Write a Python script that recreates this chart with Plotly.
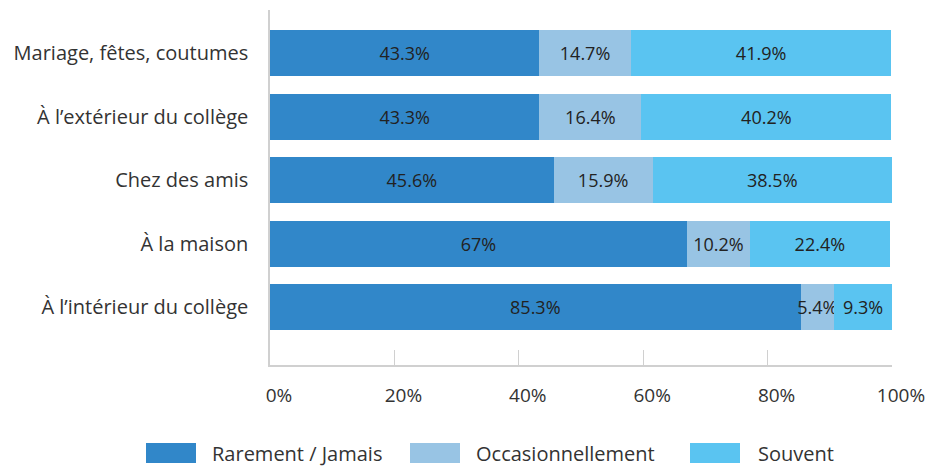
import plotly.graph_objects as go

categories = ["Mariage, fêtes, coutumes", "À l’extérieur du collège", "Chez des amis",
              "À la maison", "À l’intérieur du collège"]
series_names = ["Rarement / Jamais", "Occasionnellement", "Souvent"]
rarement = [43.3, 43.3, 45.6, 67, 85.3]
occasion = [14.7, 16.4, 15.9, 10.2, 5.4]
souvent = [41.9, 40.2, 38.5, 22.4, 9.3]
colors = ["#3187c9", "#98c4e4", "#5ac4f1"]
tick_vals = [0, 20, 40, 60, 80, 100]
tick_text = ["0%", "20%", "40%", "60%", "80%", "100%"]

FONT = "Open Sans"
TXT = "#333333"
fig = go.Figure()
for name, vals, col in zip(series_names, [rarement, occasion, souvent], colors):
    fig.add_trace(go.Bar(
        y=categories, x=vals, orientation="h", name=name,
        marker=dict(color=col, line=dict(width=0)),
        text=[f"{v:g}%" for v in vals], textposition="inside", textangle=0,
        insidetextanchor="middle", constraintext="none",
        textfont=dict(family=FONT, size=18, color="#222222"),
        showlegend=False, hoverinfo="skip",
    ))

L, R, T, B = 270, 50, 10, 101
W, H = 942, 466
pw, ph = W - L - R, H - T - B

fig.update_layout(
    barmode="stack", bargap=0.28,
    width=W, height=H,
    margin=dict(l=L, r=R, t=T, b=B),
    plot_bgcolor="white", paper_bgcolor="white",
    font=dict(family=FONT, size=19, color=TXT),
    xaxis=dict(range=[0, 100], tickvals=tick_vals, ticktext=tick_text,
               showgrid=False, zeroline=False, showline=True,
               linecolor="#d0d0d0", linewidth=1.5,
               ticks="inside", ticklen=15, tickcolor="#d0d0d0", tickwidth=1,
               ticklabelshift=9, ticklabelstandoff=12,
               tickfont=dict(size=19, color=TXT)),
    yaxis=dict(categoryorder="array", categoryarray=categories,
               range=[4.91, -0.68], showgrid=False, zeroline=False,
               showline=True, linecolor="#d0d0d0", linewidth=1.5,
               ticks="", ticklabelstandoff=16,
               tickfont=dict(size=20, color=TXT)),
)

# custom legend with wide colour boxes
legend_items = [(146, 210), (410, 474), (690, 756)]
box_w, box_top, box_bot = 50, 443, 463
for (bx, tx), name, col in zip(legend_items, series_names, colors):
    fig.add_shape(type="rect", xref="paper", yref="paper",
                  x0=(bx - L) / pw, x1=(bx + box_w - L) / pw,
                  y0=(H - B - box_bot) / ph, y1=(H - B - box_top) / ph,
                  fillcolor=col, line=dict(width=0))
    fig.add_annotation(xref="paper", yref="paper", x=(tx - L) / pw,
                       y=(H - B - (box_top + box_bot) / 2) / ph,
                       text=name, showarrow=False, xanchor="left", yanchor="middle",
                       font=dict(family=FONT, size=20, color=TXT))

fig.write_html("out.html", config={"displayModeBar": False},
               post_script="document.body.style.margin='0';document.body.style.overflow='hidden';")
